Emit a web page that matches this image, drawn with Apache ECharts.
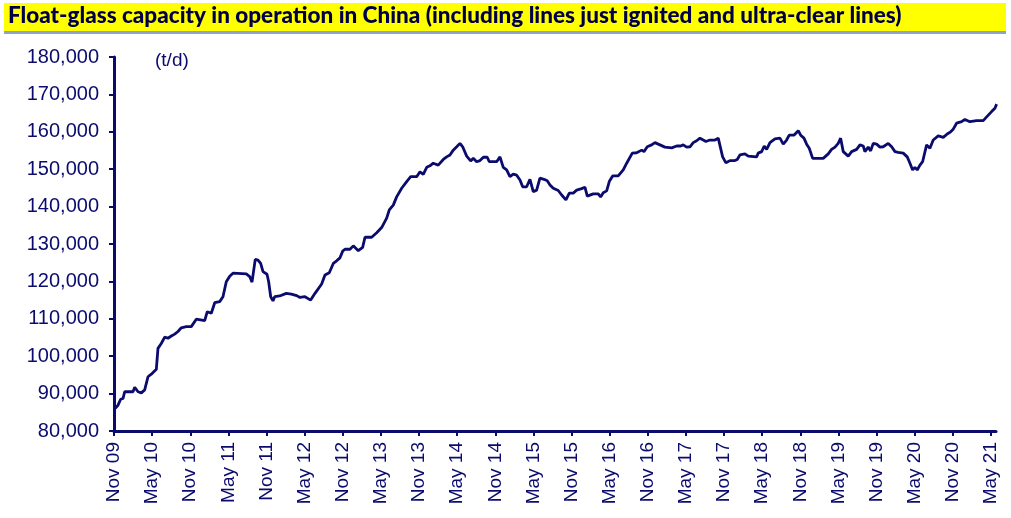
<!DOCTYPE html>
<html>
<head>
<meta charset="utf-8">
<script src="https://cdn.jsdelivr.net/npm/echarts@6/dist/echarts.min.js"></script>
<style>
  html, body { margin: 0; padding: 0; background: #ffffff; }
  #chart { width: 1011px; height: 518px; }
</style>
</head>
<body>
<div id="chart"></div>
<script>
// ---- Data ----
// x position: months since November 2009
const monthsSinceNov09 = [
  0.2,0.63,1.05,1.42,1.68,2.99,3.26,3.78,4.30,4.83,
  5.08,5.35,5.87,6.66,6.92,7.44,7.98,8.50,9.02,9.55,
  10.07,10.59,11.38,11.64,12.16,12.95,14.27,14.68,15.31,15.85,
  16.63,17.15,17.67,18.21,18.73,20.82,21.35,21.72,22.03,22.23,
  22.66,23.08,23.45,24.08,24.34,24.66,25.02,25.29,26.07,27.11,
  27.90,28.75,29.27,30.05,30.95,31.63,32.68,33.20,33.88,34.51,
  35.04,35.56,35.99,36.35,37.14,37.66,38.44,39.13,39.50,40.55,
  41.34,42.12,42.91,43.32,43.95,44.48,45.27,46.06,46.69,47.63,
  48.15,48.67,49.21,49.72,50.24,51.03,51.82,52.35,52.87,53.39,
  53.93,54.45,54.87,55.50,56.13,56.54,57.07,57.59,58.13,58.74,
  59.06,60.22,60.74,61.26,61.79,62.31,62.83,63.37,63.89,64.31,
  64.94,65.46,65.98,66.51,67.03,67.66,68.18,68.61,69.13,69.91,
  70.45,71.12,71.65,72.27,72.81,73.59,74.11,74.48,75.42,76.21,
  76.58,76.99,77.53,77.94,78.47,79.35,80.14,80.68,81.56,82.25,
  83.04,83.40,83.92,84.61,85.13,85.65,85.92,86.70,87.76,88.55,
  89.17,89.58,90.12,90.64,91.16,91.69,92.21,92.73,93.15,93.78,
  94.57,95.09,95.36,95.78,96.30,96.93,97.72,98.08,98.50,99.29,
  99.81,101.13,101.38,101.92,102.33,102.71,103.23,104.01,104.80,105.32,
  105.85,106.26,107.00,107.68,108.06,108.58,109.00,109.41,109.95,111.61,
  112.40,112.93,113.46,113.97,114.35,114.76,115.55,116.08,116.87,117.39,
  117.91,118.17,118.69,119.07,119.48,120.02,120.54,121.05,121.32,121.84,
  122.38,122.90,123.41,124.20,124.83,125.26,125.68,126.04,126.40,126.83,
  127.25,127.88,128.40,128.92,129.71,130.50,131.12,131.66,132.07,132.60,
  133.39,133.91,134.70,135.75,136.79,137.33,138.11,138.63,138.90
];
// capacity in thousand t/d
const capacityThousandTd = [
  86.1,86.9,88.5,88.7,90.5,90.5,91.7,90.5,90.2,91.0,
  91.1,94.5,95.2,96.5,102.1,103.4,105.1,104.8,105.4,105.9,
  106.6,107.6,107.9,108.3,107.9,109.9,109.5,111.9,111.5,114.3,
  114.6,115.9,119.9,121.4,122.2,122.0,121.3,119.8,119.7,125.9,
  125.7,124.8,122.6,121.9,119.9,115.9,114.8,115.9,116.1,116.8,
  116.6,116.2,115.7,115.9,115.0,116.8,119.3,121.7,122.3,124.8,
  125.5,126.3,128.1,128.6,128.6,129.5,128.2,129.1,131.8,131.8,
  133.0,134.4,136.9,139.1,140.4,142.6,144.9,146.7,148.0,148.0,
  149.3,148.6,150.5,150.9,151.6,151.1,152.6,153.3,153.8,155.1,
  156.0,156.9,156.0,153.5,152.2,152.9,152.0,152.3,153.2,153.2,
  152.0,152.0,153.3,150.5,149.8,148.0,148.7,148.4,147.1,145.3,
  145.3,147.3,144.0,144.4,147.6,147.3,146.9,145.8,144.9,144.3,
  143.1,141.8,143.6,143.6,144.4,144.8,145.2,142.8,143.4,143.4,
  142.6,143.7,144.2,146.7,148.2,148.2,149.8,151.6,154.3,154.4,
  155.1,154.7,156.0,156.5,157.1,156.7,156.2,155.9,155.7,156.2,
  156.2,156.5,155.9,156.0,157.1,157.6,158.3,157.8,157.4,157.8,
  157.8,158.3,157.8,153.3,151.7,152.3,152.3,152.6,153.8,154.1,
  153.5,153.3,154.3,154.7,156.2,155.3,157.1,158.1,158.3,156.7,
  157.8,159.1,159.1,160.3,159.1,158.3,156.7,155.6,152.9,152.9,
  154.1,155.3,155.9,156.9,158.3,154.7,153.5,154.7,155.3,156.5,
  156.2,154.7,155.9,154.9,156.9,156.7,155.9,156.0,155.6,156.9,
  156.0,154.7,154.5,154.3,153.3,151.6,149.8,150.5,149.8,151.1,
  152.0,156.5,155.6,157.8,158.9,158.5,159.4,160.0,160.7,162.3,
  162.7,163.3,162.7,163.0,163.0,164.0,165.4,166.3,167.4
];
// x tick labels, one every 6 months starting at Nov 09
const xTickLabels = [
  'Nov 09','May 10','Nov 10','May 11','Nov 11','May 12','Nov 12','May 13',
  'Nov 13','May 14','Nov 14','May 15','Nov 15','May 16','Nov 16','May 17',
  'Nov 17','May 18','Nov 18','May 19','Nov 19','May 20','Nov 20','May 21'
];
const xTickStepMonths = 6;
const yMin = 80000, yMax = 180000, yStep = 10000;
const titleText = 'Float-glass capacity in operation in China (including lines just ignited and ultra-clear lines)';
const unitText = '(t/d)';

// ---- Build ----
const NAVY = '#0b0b6e';
const seriesData = monthsSinceNov09.map((m, i) => [m, Math.round(capacityThousandTd[i] * 1000)]);
const tickValues = xTickLabels.map((_, i) => i * xTickStepMonths);

const chart = echarts.init(document.getElementById('chart'), null, { renderer: 'canvas' });
chart.setOption({
  animation: false,
  backgroundColor: '#ffffff',
  grid: { left: 114, right: 15, top: 57, bottom: 87, containLabel: false },
  graphic: [
    { type: 'rect', shape: { x: 4, y: 3, width: 1002, height: 28 }, style: { fill: '#ffff00' }, silent: true },
    { type: 'rect', shape: { x: 4, y: 31, width: 1002, height: 3 }, style: { fill: '#8fa2cc' }, silent: true },
    { type: 'text', left: 8, top: 4, style: { text: titleText, font: '900 22.5px Lato, "Open Sans", sans-serif', fill: '#00004a' }, silent: true },
    { type: 'text', left: 155, top: 51, style: { text: unitText, font: '19px "Liberation Sans", Arial, sans-serif', fill: NAVY }, silent: true }
  ],
  xAxis: {
    type: 'value',
    min: 0,
    max: 138.8,
    splitLine: { show: false },
    axisLine: { show: true, onZero: false, lineStyle: { color: NAVY, width: 3 } },
    axisTick: { show: true, length: 5, customValues: tickValues, lineStyle: { color: NAVY, width: 2 } },
    axisLabel: {
      customValues: tickValues,
      rotate: 90,
      margin: 11,
      color: NAVY,
      fontFamily: '"Liberation Sans", Arial, sans-serif',
      fontSize: 19,
      formatter: (v) => {
        const idx = Math.round(v / xTickStepMonths);
        return xTickLabels[idx] || '';
      }
    }
  },
  yAxis: {
    type: 'value',
    min: yMin,
    max: yMax,
    interval: yStep,
    splitLine: { show: false },
    axisLine: { show: true, lineStyle: { color: NAVY, width: 3 } },
    axisTick: { show: true, length: 5, lineStyle: { color: NAVY, width: 2 } },
    axisLabel: {
      margin: 15,
      color: NAVY,
      fontFamily: '"Liberation Sans", Arial, sans-serif',
      fontSize: 20,
      formatter: (v) => v.toLocaleString('en-US')
    }
  },
  series: [{
    type: 'line',
    data: seriesData,
    showSymbol: false,
    smooth: false,
    lineStyle: { color: NAVY, width: 2.8 },
    z: 3
  }]
});
</script>
</body>
</html>
